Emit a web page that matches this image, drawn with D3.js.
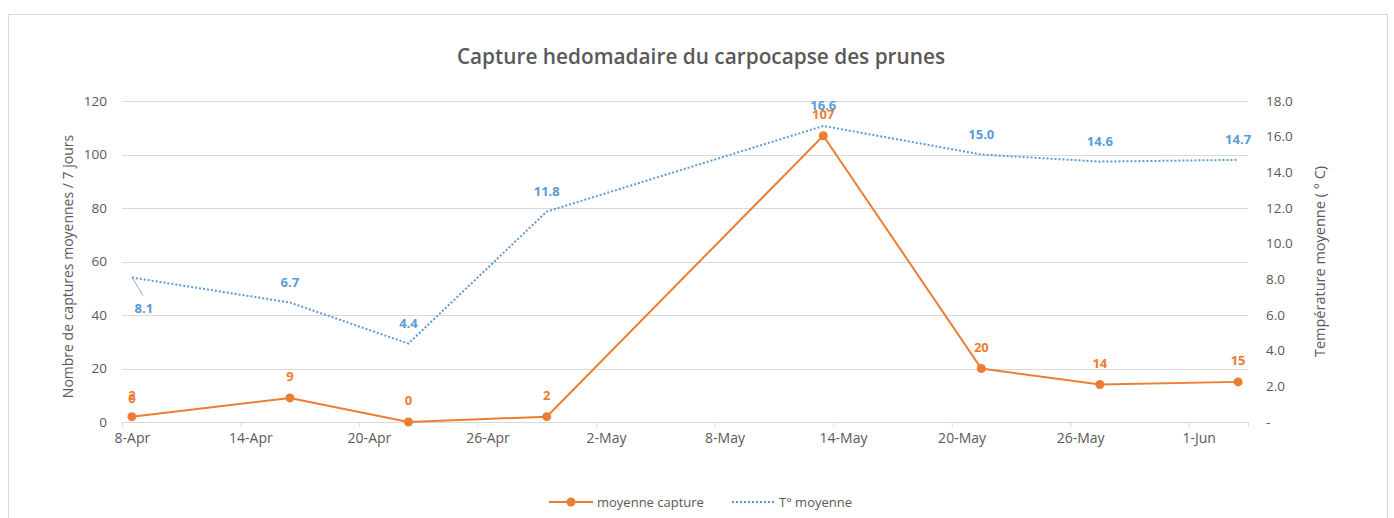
<!DOCTYPE html>
<html><head><meta charset="utf-8">
<script src="https://cdn.jsdelivr.net/npm/d3@7"></script>
<style>
body{margin:0;background:#fff;}
text{font-family:"Open Sans",sans-serif;}
</style>
</head><body>
<svg id="chart" width="1394" height="518"></svg>
<script>
// ---- data ----
const dates = ["2019-04-08","2019-04-16","2019-04-22","2019-04-29","2019-05-13","2019-05-21","2019-05-27","2019-06-03"];
const captures = [2, 9, 0, 2, 107, 20, 14, 15];
const temperatures = [8.1, 6.7, 4.4, 11.8, 16.6, 15.0, 14.6, 14.7];
const leftTicks = [0, 20, 40, 60, 80, 100, 120];
const rightTicks = [0, 2, 4, 6, 8, 10, 12, 14, 16, 18];
const xStart = "2019-04-08", xEnd = "2019-06-04";
const strayLabels = ["0"]; // overlapping label seen at the first point
const title = "Capture hedomadaire du carpocapse des prunes";
const leftTitle = "Nombre de captures moyennes / 7 jours";
const rightTitle = "Température moyenne ( ° C)";
const seriesNames = ["moyenne capture", "T° moyenne"];

// ---- layout ----
const ORANGE = "#ed7d31", BLUE = "#5b9bd5", GRID = "#d9d9d9", TXT = "#595959";
const L = 122, R = 1248, T = 101, B = 422;
const svg = d3.select("#chart");
const parse = d3.utcParse("%Y-%m-%d");
const pts = dates.map((d, i) => ({date: d3.utcHour.offset(parse(d), 12), c: captures[i], t: temperatures[i]}));

const x = d3.scaleUtc().domain([parse(xStart), parse(xEnd)]).range([L, R]);
const yL = d3.scaleLinear().domain([0, 120]).range([B, T]);
const yR = d3.scaleLinear().domain([0, 18]).range([B, T]);
const halfDay = x(d3.utcHour.offset(parse(xStart), 12)) - x(parse(xStart));

// chart border
svg.append("rect").attr("x", 8.5).attr("y", 14.5).attr("width", 1379).attr("height", 540)
  .attr("fill", "#fff").attr("stroke", GRID);

// title
svg.append("text").attr("x", 701).attr("y", 64).attr("text-anchor", "middle")
  .attr("font-size", 20.8).attr("font-weight", 600).attr("fill", TXT).text(title);

// gridlines
svg.append("g").selectAll("line").data(leftTicks).join("line")
  .attr("x1", L).attr("x2", R).attr("y1", d => Math.round(yL(d)) + 0.5).attr("y2", d => Math.round(yL(d)) + 0.5)
  .attr("stroke", GRID).attr("stroke-width", 1);

// left axis
const gL = svg.append("g").attr("transform", `translate(${L - 6},0)`)
  .call(d3.axisLeft(yL).tickValues(leftTicks).tickSize(0).tickPadding(9));
gL.select(".domain").remove();
gL.selectAll("text").attr("font-size", 13.5).attr("fill", TXT).attr("font-family", "Open Sans");

// right axis
const gR = svg.append("g").attr("transform", `translate(${R + 18},0)`)
  .call(d3.axisRight(yR).tickValues(rightTicks).tickSize(0).tickPadding(0)
    .tickFormat(d => d === 0 ? "-" : d3.format(".1f")(d)));
gR.select(".domain").remove();
gR.selectAll("text").attr("font-size", 13.5).attr("fill", TXT).attr("font-family", "Open Sans");

// x axis
const xTicks = d3.utcDay.range(parse(xStart), parse(xEnd), 6);
const gX = svg.append("g").attr("transform", `translate(0,${B})`)
  .call(d3.axisBottom(x).tickValues(xTicks).tickSize(5).tickPadding(6).tickFormat(d3.utcFormat("%-d-%b")));
gX.select(".domain").attr("stroke", GRID);
gX.selectAll(".tick line").attr("stroke", GRID);
gX.selectAll("text").attr("font-size", 14).attr("fill", TXT).attr("font-family", "Open Sans").attr("x", halfDay);

// axis titles
svg.append("text").attr("transform", `translate(73,${(T + B) / 2 + 5}) rotate(-90)`).attr("text-anchor", "middle")
  .attr("font-size", 14).attr("fill", TXT).text(leftTitle);
svg.append("text").attr("transform", `translate(1325,${(T + B) / 2}) rotate(-90)`).attr("text-anchor", "middle")
  .attr("font-size", 14.5).attr("fill", TXT).text(rightTitle);

// temperature line
svg.append("path").datum(pts)
  .attr("d", d3.line().x(d => x(d.date)).y(d => yR(d.t)))
  .attr("fill", "none").attr("stroke", BLUE).attr("stroke-width", 2).attr("stroke-dasharray", "2,2");

// capture line
svg.append("path").datum(pts)
  .attr("d", d3.line().x(d => x(d.date)).y(d => yL(d.c)))
  .attr("fill", "none").attr("stroke", ORANGE).attr("stroke-width", 2);
svg.append("g").selectAll("circle").data(pts).join("circle")
  .attr("cx", d => x(d.date)).attr("cy", d => yL(d.c)).attr("r", 4.5).attr("fill", ORANGE);

// temperature labels
svg.append("g").selectAll("text").data(pts).join("text")
  .attr("x", (d, i) => x(d.date) + (i === 0 ? 12 : 0))
  .attr("y", (d, i) => i === 0 ? yR(d.t) + 35 : yR(d.t) - 16)
  .attr("text-anchor", "middle").attr("font-size", 13).attr("font-weight", 700).attr("fill", BLUE)
  .text(d => d3.format(".1f")(d.t));
// leader line for first temperature label
svg.append("line").attr("x1", x(pts[0].date) + 1).attr("y1", yR(pts[0].t) + 1)
  .attr("x2", x(pts[0].date) + 11).attr("y2", yR(pts[0].t) + 18).attr("stroke", "#a6a6a6").attr("stroke-width", 1);

// capture labels
svg.append("g").selectAll("text").data(pts).join("text")
  .attr("x", d => x(d.date)).attr("y", d => yL(d.c) - 17)
  .attr("text-anchor", "middle").attr("font-size", 13).attr("font-weight", 700).attr("fill", ORANGE)
  .text(d => d.c);
svg.append("g").selectAll("text").data(strayLabels).join("text")
  .attr("x", x(pts[0].date)).attr("y", yL(pts[0].c) - 14)
  .attr("text-anchor", "middle").attr("font-size", 13).attr("font-weight", 700).attr("fill", ORANGE)
  .text(d => d);

// legend
const lg = svg.append("g");
lg.append("line").attr("x1", 549).attr("x2", 593).attr("y1", 502).attr("y2", 502).attr("stroke", ORANGE).attr("stroke-width", 2);
lg.append("circle").attr("cx", 571).attr("cy", 502).attr("r", 4.5).attr("fill", ORANGE);
lg.append("text").attr("x", 597).attr("y", 506.5).attr("font-size", 13).attr("fill", TXT).text(seriesNames[0]);
lg.append("line").attr("x1", 732).attr("x2", 775).attr("y1", 502).attr("y2", 502).attr("stroke", BLUE).attr("stroke-width", 2).attr("stroke-dasharray", "2,2");
lg.append("text").attr("x", 779).attr("y", 506.5).attr("font-size", 13).attr("fill", TXT).text(seriesNames[1]);
</script>
</body></html>
